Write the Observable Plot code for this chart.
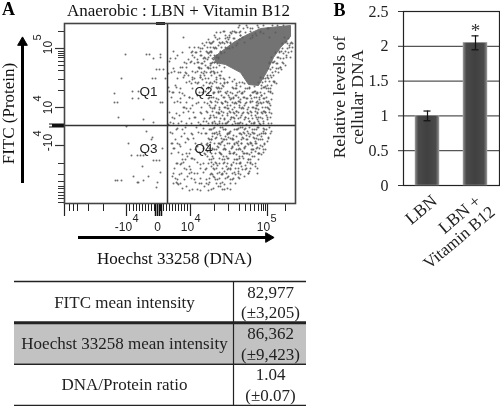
<!DOCTYPE html>
<html><head><meta charset="utf-8">
<script src="https://cdn.jsdelivr.net/npm/d3@7"></script>
<script src="https://cdn.jsdelivr.net/npm/@observablehq/plot@0.6"></script>
<style>
html,body{margin:0;padding:0;background:#fff;width:500px;height:406px;overflow:hidden}
#wrap{position:relative;width:500px;height:406px}
#wrap svg{position:absolute;overflow:visible;filter:blur(0.35px)}
</style></head><body><div id="wrap"></div>
<script>
// Panel A: flow cytometry events, read by row: [FITC channel, [Hoechst channels]]
const eventsLeft = [
[149,[61,85,82,96]],[146,[96]],[145,[89]],[134,[92,95,99]],[125,[57,88,91,101]],[112,[74,68]],[110,[50]],
[101,[50,53,96,98]],[105,[68,74]],[86,[54]],[84,[79]],[81,[89]],
[77,[62]],[72,[82]],[66,[88]],[64,[87]],[60,[64]],[55,[98]],[48,[67,73,76,79]],[43,[89,92,95]],
[37,[78]],[31,[96]],[27,[69,84]],[23,[79]],[23,[51,53,57]],[21,[74,73,93]],[16,[92]]
];
const eventsUpper = [
[178,[175,199,213]],[175,[188,204]],[178,[182,193,208,219]],[171,[171,196,211]],[175,[179,186,203]],[170,[167,191,199]],
[176,[174,183,194]],[166,[163,178,188,205]],[172,[170,186,159]],[168,[165,176,192]],[171,[156,172,181]],[165,[161,169,186]],
[171,[152,166,175]],[161,[158,163,180,148]],[165,[155,170,224]],[160,[146,160,173,226]],[166,[119,151,165,220]],[156,[143,157,168,228]],
[162,[149,162,222]],[158,[140,154,172,225]],[161,[145,158,166]],[155,[136,150,163,218]],[161,[142,155,221,227]],[151,[131,147,160,215]],
[155,[138,152,165,223]],[150,[144,157,219]],[156,[125,134,149,225]],[146,[140,154,213]],[152,[109,146,128,217]],[148,[113,136,150,222]],
[151,[143,132,156,211]],[145,[106,139,148,216]],[151,[118,127,145,224]],[141,[134,150,209]],[145,[111,141,154,219]],[140,[122,137,147,213]],
[146,[130,144,152,207,226]],[136,[116,135,149,216]],[142,[105,127,140,210]],[138,[141,146,221,155]],[141,[120,133,150,205]],[135,[109,137,144,214]],
[141,[126,148,208,218]],[131,[114,131,142,153]],[135,[135,146,204,212]],[130,[104,122,139,150]],[136,[118,143,208,216]],[126,[128,136,152,203]],
[132,[110,133,147,211]],[128,[124,140,156,206]],[131,[116,137,150,214]],[125,[130,144,159,201]],[131,[107,121,146,208]],[121,[134,152,163,210]],
[125,[113,141,156,204,199]],[120,[127,148,160,212]],[126,[119,136,165,207,196]],[116,[104,144,154,200]],[122,[125,150,168,209]],[118,[111,139,158,172,203]],
[121,[131,146,163,178,194]],[115,[116,153,169,183,206]],[121,[122,142,160,175,198]],[111,[108,135,149,166,188]],[115,[128,155,171,181,202]],
[110,[118,144,162,177,192,208]],[116,[112,137,152,168,185,199]],[106,[125,147,159,174,195]],[112,[105,141,156,180,190,204]],[108,[120,133,164,171,186,197]],
[111,[115,150,161,178,193,206]],[105,[128,144,167,183,200]],[111,[109,138,154,173,189,196]],[101,[122,147,163,176,192,203]],[105,[116,152,169,182,187,199]],
[100,[132,143,158,172,194,205]],[106,[107,125,149,165,179,190]],[96,[119,137,155,170,184,198]],[102,[113,146,161,175,188,202]],[98,[128,151,166,180,193]],
[101,[110,140,157,171,186,199]],[95,[122,148,163,177,191,204]],[101,[116,134,153,168,182,196]],[91,[105,143,159,174,187,201]],[95,[126,150,164,179,192]],
[90,[112,137,155,170,184,198]],[96,[120,146,161,175,189,203]],[86,[108,131,152,167,181,194]],[92,[124,142,157,172,186,200]],[88,[115,149,163,177,191]],
[91,[129,136,154,169,183,197,205]],[85,[110,145,160,174,188]],[91,[119,152,166,179,193,201]],[81,[106,134,148,163,176,190]],[85,[125,140,156,170,184,198]],
[80,[114,151,161,173,187,195]],[86,[130,146,167,181,192,203]],[80,[109,122,155,171,178,199]],[82,[117,139,150,164,185,194]],[80,[127,144,158,175,189,204]]
];
const eventsLower = [
[79,[104,136,153,168,182,196]],[74,[112,147,161,173,188,200]],[76,[121,132,156,178,193]],[70,[108,142,150,165,184,197,206]],[74,[118,146,159,170,190,202]],
[69,[128,153,163,177,186,195]],[75,[113,139,149,174,181,199]],[65,[123,144,157,168,192,204]],[71,[106,134,152,165,179,188]],[67,[117,148,161,172,185,197]],
[70,[127,141,155,176,190,201]],[64,[111,145,159,169,183,194]],[70,[120,137,150,164,180,199]],[60,[108,131,154,173,187,192]],[64,[124,147,162,177,196]],
[59,[115,142,156,170,184,200]],[65,[129,151,166,179,190]],[55,[110,139,148,160,175,195]],[61,[121,146,157,172,186]],[57,[116,133,153,168,181,198]],
[60,[107,143,163,177,191]],[54,[126,150,159,174,188,201]],[60,[113,137,155,170,183]],[50,[122,147,165,179,194]],[54,[131,152,161,176,189]],
[49,[118,141,157,172,185,197]],[55,[109,145,167,180,192]],[45,[127,149,163,175]],[51,[114,135,155,170,187,199]],[47,[123,143,159,178,190]],
[50,[107,151,166,182,194]],[44,[118,130,147,173,186]],[50,[125,140,156,169,180]],[40,[112,152,163,176,191]],[44,[121,145,160,172,184]],
[39,[116,136,149,167,188]],[45,[128,155,164,179]],[35,[110,142,158,174,193]],[41,[119,133,151,169,183]],[37,[125,147,162,177,191]],
[40,[113,139,155,172,186]],[34,[122,150,166,181]],[40,[117,144,159,175]],[30,[109,130,153,168,184]],[34,[126,141,163,178]],
[29,[115,148,157,171]],[35,[120,136,152,166,182]],[25,[111,145,161,175]],[31,[127,139,155,170]],[27,[108,123,149,164,180]],
[30,[117,133,158,174,193]],[24,[113,142,153,168]],[30,[125,147,162,184]],[20,[109,137,156,171]],[24,[120,130,151,166]],
[19,[114,144,160]],[25,[127,136,155,169]],[15,[118,149,163]],[21,[112,131,145,158]],[17,[122,140,154,156]],
[20,[116,135,166]],[14,[128,147,160]],[20,[113,142,152]],[13,[125,136,144]],[14,[133,158,166]]
];
const eventsDense = [
[117,[147,159,176,190,201]],[115,[144,157,172,185,197,204]],[112,[154,163,175,191,206]],[110,[149,168,178,193,200]],[108,[157,172,186,197]],
[106,[145,160,169,180,192,202]],[104,[154,166,176,195,207]],[102,[151,161,174,186,193,204]],[100,[158,170,181,197]],[98,[145,163,175,192,206]],
[96,[150,160,178,188,201]],[94,[155,168,183,194,205]],[92,[148,165,172,191,199]],[90,[154,163,178,193,207]],[88,[146,158,172,187,202]],
[86,[150,169,176,196,206]],[84,[160,166,180,193,203]],[82,[142,155,170,185,199]],[80,[148,162,174,190,207]],
[76,[150,158,176,185,194,205]],[74,[145,161,172,180,192]],[72,[155,166,183,199,207]],[70,[148,163,175,189,201]],[68,[156,169,182,193]],
[66,[152,164,178,189,204]],[64,[147,160,168,182,198]],[62,[158,174,191,203]],[60,[150,165,177,186,200]],[58,[143,160,174,188,196]],
[56,[154,168,180,193]],[54,[148,161,172,187,199]],[52,[143,165,178,191]],[50,[156,169,183,195]],[47,[148,162,175,188]],[44,[158,170,184,194]],
[41,[147,160,176,186]],[38,[153,167,181]],[35,[149,164,171,186]],[32,[160,174,185]],[29,[146,158,176]],[26,[150,163,174]],
[172,[160,168,176,196]],[168,[150,161,176,188]],[164,[144,153,164,175]],[160,[138,147,156,166]],[156,[130,146,151,161]],[152,[136,142,147,156]],
[148,[128,137,146,152]],[144,[124,133,143,149]],[140,[130,138,146,153]],[136,[122,134,144,152,160]],[132,[128,140,149,157]],[128,[120,136,147,155]],
[124,[128,138,152,160,170]],[120,[133,145,156,172,180]],
[160,[228,218,223]],[152,[221,227,215]],[146,[214,222]],[140,[212,219,205]],[134,[206,217]],[128,[203,209]],[122,[201,205,210]],[118,[197,207]]
];
const cloudHoechst = [149,169,181,196,226,226,216,209,202,194,184,176,161,151];
const cloudFitc    = [146,161,168,175,178,167,156,146,131,118,119,131,139,141];
const xMajorTicks = [0,62,126,203];
const xMinorTicks = [5,9,13,24,39,65,69,72,75,78,81,84,87,90,93,96,99,102,105,108,111,114,117,120,123,150,164,175,181,186,190,194,197,199,201,221];
const xCenterTicks = [91,93,95,97];
const yMajorTicks = [155,96,58];
const yMinorTicks = [172,152,150,148,146,142,138,133,124,113,40,29,22,17,15,11,8,5,1];
const quadrants = ["Q1","Q2","Q3","Q4"];
const quadrantX = [84,139,84,139];
const quadrantY = [112,112,55,55];
const xBase = ["-10","0","10","10"], xBaseAt = [59,93,123,199];
const xExp = ["4","4","5"], xExpAt = [71,133,209];
const yBase = ["10","10","-10"], yBaseAt = [156,96,61];
const yExp = ["5","4","4"], yExpAt = [166,105,70];

// Panel B
const groups = ["LBN","LBN + Vitamin B12"];
const levels = [1,2.05];
const errLow = [0.93,1.95];
const errHigh = [1.07,2.15];
const levelTicks = [0,0.5,1,1.5,2,2.5];

// Table
const measures = ["FITC mean intensity","Hoechst 33258 mean intensity","DNA/Protein ratio"];
const means = ["82,977","86,362","1.04"];
const errors = ["(±3,205)","(±9,423)","(±0.07)"];

const serif = "'Liberation Serif','Times New Roman',serif";
const sans = "'Liberation Sans',Arial,sans-serif";
const wrap = document.getElementById("wrap");

// ---------- Panel A
const flat = r => r.flatMap(([y,xs]) => xs.map(x => ({x,y})));
const events = [...flat(eventsLeft),...flat(eventsUpper),...flat(eventsLower),...flat(eventsDense)];
const cloud = cloudHoechst.map((x,i)=>({x,y:cloudFitc[i]}));
const A = Plot.plot({
  width:310,height:270,marginLeft:64,marginRight:15,marginTop:23,marginBottom:67,
  x:{domain:[0,231],axis:null},y:{domain:[0,180],axis:null},
  style:{background:"transparent",fontFamily:serif},
  marks:[
    Plot.line(cloud,{x:"x",y:"y",fill:"#737373",stroke:"#737373",strokeWidth:1}),
    Plot.dot(events,{x:"x",y:"y",r:1,fill:"#5c5c5c",fillOpacity:0.9}),
    Plot.ruleX(xMinorTicks,{y1:0,y2:-8,stroke:"#222"}),
    Plot.ruleX(xMajorTicks,{y1:0,y2:-13,stroke:"#222",strokeWidth:1.2}),
    Plot.ruleX(xCenterTicks,{y1:0,y2:-13,stroke:"#111",strokeWidth:1.5}),
    Plot.ruleY(yMinorTicks,{x1:0,x2:-6,stroke:"#333"}),
    Plot.ruleY(yMajorTicks,{x1:0,x2:-9,stroke:"#333",strokeWidth:1.2}),
    Plot.ruleY([78],{x1:-15,x2:0,stroke:"#111",strokeWidth:4}),
    Plot.ruleY([78],{x1:-15,x2:-12,stroke:"#fff",strokeWidth:2}),
    Plot.ruleX([103],{stroke:"#333",strokeWidth:1.5}),
    Plot.ruleY([78],{stroke:"#333",strokeWidth:1.5}),
    Plot.ruleY([180],{x1:92,x2:101,stroke:"#222",strokeWidth:3}),
    Plot.frame({stroke:"#444",strokeWidth:1.6}),
    Plot.text(quadrants,{x:quadrantX,y:quadrantY,text:d=>d,fontSize:13.5,fontFamily:sans,fill:"#222"}),
    Plot.text(xBase,{x:xBaseAt,y:-24,text:d=>d,fontSize:12,fontFamily:sans,fill:"#222"}),
    Plot.text(xExp,{x:xExpAt,y:-15,text:d=>d,fontSize:11,fontFamily:sans,fill:"#222"}),
    Plot.text(yBase,{x:-16,y:yBaseAt,text:d=>d,rotate:-90,fontSize:12,fontFamily:sans,fill:"#222"}),
    Plot.text(yExp,{x:-27,y:yExpAt,text:d=>d,rotate:-90,fontSize:11,fontFamily:sans,fill:"#222"}),
    Plot.text(["Anaerobic : LBN + Vitamin B12"],{x:114,y:193,text:d=>d,fontSize:17,fill:"#111",fontFamily:serif}),
    Plot.text(["A"],{x:-56,y:194,text:d=>d,fontSize:18,fontWeight:"bold",fill:"#000",fontFamily:serif}),
    Plot.text(["FITC (Protein)"],{x:-56,y:90,text:d=>d,rotate:-90,fontSize:17,fill:"#111",fontFamily:serif}),
    Plot.text(["Hoechst 33258 (DNA)"],{x:110,y:-55,text:d=>d,fontSize:17,fill:"#111",fontFamily:serif}),
    Plot.ruleX([-42],{y1:20,y2:160,stroke:"#000",strokeWidth:3}),
    Plot.dot([0],{x:-42,y:161,symbol:"triangle",r:3.6,fill:"#000",stroke:"#000",strokeWidth:1}),
    Plot.ruleY([-34],{x1:14,x2:203,stroke:"#000",strokeWidth:3}),
    Plot.dot([0],{x:204,y:-34,symbol:"triangle",rotate:90,r:3.6,fill:"#000",stroke:"#000",strokeWidth:1})
  ]
});
A.style.left="0";A.style.top="0";wrap.append(A);

// ---------- Panel B
const bars = groups.map((g,i)=>({g,v:levels[i],lo:errLow[i],hi:errHigh[i]}));
const B = Plot.plot({
  width:180,height:285,marginLeft:83,marginRight:1,marginTop:11,marginBottom:100,
  x:{domain:groups,axis:null,paddingInner:0.5,paddingOuter:0.25},
  y:{domain:[0,2.5],ticks:levelTicks,label:null},
  style:{background:"transparent",fontFamily:serif,color:"#222"},
  marks:[
    Plot.ruleY(levelTicks,{stroke:"#555",strokeWidth:1.2}),
    Plot.frame({stroke:"#222",strokeWidth:1.2}),
    Plot.axisY({ticks:levelTicks,tickSize:5,tickPadding:10,label:null,fontSize:16,tickFormat:d=>String(d),fontFamily:serif,stroke:"#333"}),
    Plot.barY(bars,{x:"g",y:"v",fill:"url(#barShade)",stroke:"#aaa",strokeWidth:0.5}),
    Plot.ruleX(bars,{x:"g",y1:"lo",y2:"hi",stroke:"#111",strokeWidth:1.2}),
    Plot.tickY(bars,{x:"g",y:"hi",stroke:"#111",strokeWidth:1.2,insetLeft:8.5,insetRight:8.5}),
    Plot.tickY(bars,{x:"g",y:"lo",stroke:"#111",strokeWidth:1.2,insetLeft:8.5,insetRight:8.5}),
    Plot.text(["*"],{x:[groups[1]],y:[2.15],dy:-5,text:d=>d,fontSize:19,fontFamily:serif,fill:"#333"}),
    Plot.text(["Relative levels of\ncellular DNA"],{frameAnchor:"left",y:[1.27],dx:-55,text:d=>d,rotate:-90,fontSize:17.5,lineHeight:1,fill:"#222",fontFamily:serif,textAnchor:"middle"}),
    Plot.text(["B"],{frameAnchor:"top-left",dx:-70,dy:-8,text:d=>d,fontSize:18,fontWeight:"bold",fill:"#000",fontFamily:serif}),
    Plot.text(["LBN"],{x:[groups[0]],y:[0],dx:7,dy:13,text:d=>d,rotate:-40,textAnchor:"end",fontSize:17.5,fill:"#222",fontFamily:serif}),
    Plot.text(["LBN +"],{x:[groups[1]],y:[0],dx:3,dy:13,text:d=>d,rotate:-40,textAnchor:"end",fontSize:17.5,fill:"#222",fontFamily:serif}),
    Plot.text(["Vitamin B12"],{x:[groups[1]],y:[0],dx:17,dy:24,text:d=>d,rotate:-40,textAnchor:"end",fontSize:17,fill:"#222",fontFamily:serif})
  ]
});
d3.select(B).insert("defs",":first-child").html(
 '<linearGradient id="barShade" x1="0" x2="1" y1="0" y2="0"><stop offset="0" stop-color="#8a8a8a"/><stop offset="0.14" stop-color="#4a4a4a"/><stop offset="0.5" stop-color="#404040"/><stop offset="0.86" stop-color="#4a4a4a"/><stop offset="1" stop-color="#8a8a8a"/></linearGradient>');
B.style.left="320px";B.style.top="0";wrap.append(B);

// ---------- Table
const rows = measures.map((m,i)=>({m,mean:means[i],err:errors[i],i}));
const T = Plot.plot({
  width:320,height:136,marginLeft:14,marginRight:14,marginTop:11,marginBottom:1,
  x:{domain:[0,292],axis:null},y:{domain:[3,0],axis:null},
  style:{background:"transparent",fontFamily:serif},
  marks:[
    Plot.rectY([1],{x1:0,x2:292,y1:1,y2:2,fill:"#c2c2c2"}),
    Plot.ruleY([0,2,3],{stroke:"#222",strokeWidth:1.5}),
    Plot.ruleY([1],{stroke:"#222",strokeWidth:3}),
    Plot.ruleX([219],{stroke:"#222",strokeWidth:1.2}),
    Plot.text(rows,{x:110,y:d=>d.i+0.5,text:"m",fontSize:17,fill:"#222",fontFamily:serif}),
    Plot.text(rows,{x:256,y:d=>d.i+0.26,text:"mean",fontSize:17,fill:"#222",fontFamily:serif}),
    Plot.text(rows,{x:256,y:d=>d.i+0.76,text:"err",fontSize:17,fill:"#222",fontFamily:serif})
  ]
});
T.style.left="0";T.style.top="270px";wrap.append(T);
</script></body></html>
